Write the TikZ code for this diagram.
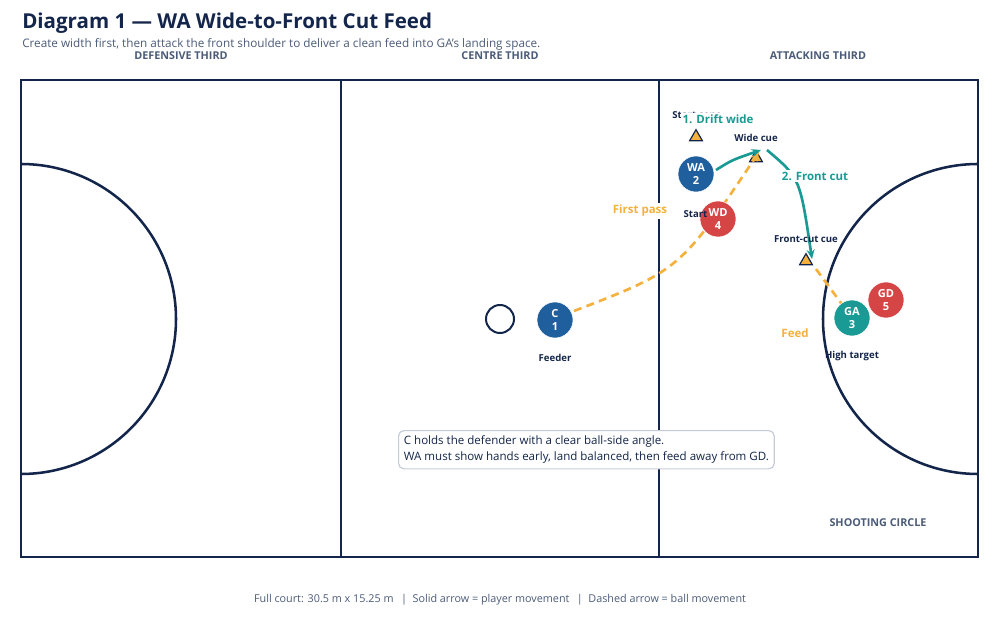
\documentclass[tikz,border=0pt]{standalone}
\usepackage{fontspec}
\setmainfont{Open Sans}
\usepackage{tikz}
\usetikzlibrary{calc,arrows.meta,shapes.geometric,positioning}
\definecolor{Navy}{HTML}{13254A}
\definecolor{SlateText}{HTML}{4B5B78}
\definecolor{CourtBlue}{HTML}{1F5F9E}
\definecolor{DefRed}{HTML}{D64545}
\definecolor{Teal}{HTML}{1A9A94}
\definecolor{BallOrange}{HTML}{F4B13D}
\definecolor{BoxEdge}{HTML}{C5CCD8}

\begin{document}
\begin{tikzpicture} [x=0.75pt, y=-0.75pt, >=Stealth, text=Navy,
	   every node/.style={font=\footnotesize},
	   zone/.style = {font=\bfseries\fontsize{8.1}{9}\selectfont, text=SlateText},
	   player/.style = {circle, minimum size=27pt, inner sep=0pt,
	                    fill=#1, draw=white, thin, text=white, align=center,
	                    font=\bfseries\fontsize{8.3}{9.5}\selectfont},
	   cone/.style = {regular polygon, regular polygon sides=3, minimum size=11pt,
	                  inner sep=0pt, fill=BallOrange, draw=Navy, line width=0.9pt},
	   tag/.style = {font=\bfseries\fontsize{7.2}{8}\selectfont, text=Navy, inner sep=1pt},
	   callout/.style 2 args = {font=\bfseries\fontsize{#1}{10}\selectfont, text=#2,
	                            fill=white, inner sep=1.5pt},
	   run/.style = {Teal, line width=2pt, -{Stealth[length=7pt,width=6pt]}},
	   pass/.style = {BallOrange, line width=2pt, dash pattern=on 6pt off 4pt}]
	\useasboundingbox (0,0) rectangle (1000,627);

	%% Title block
	\node [anchor=west, inner sep=0pt, font=\bfseries\fontsize{15.4}{17}\selectfont] (title) at (22,23)
	      {Diagram 1 --- WA Wide-to-Front Cut Feed};
	\node [anchor=west, inner sep=0pt, text=SlateText, font=\fontsize{8.8}{10}\selectfont] (subtitle) at (22,44)
	      {Create width first, then attack the front shoulder to deliver a clean feed into GA’s landing space.};

	%% Zone labels
	\node [zone] (defzone) at (181,56) {DEFENSIVE THIRD};
	\node [zone] (cenzone) at (500,56) {CENTRE THIRD};
	\node [zone] (attzone) at (818,56) {ATTACKING THIRD};
	\node [zone] (circzone) at (878,523) {SHOOTING CIRCLE};

	%% Labels under the court lines
	\node [tag] (hightarget) at (852,356) {High target};

	%% Court
	\begin{scope}[Navy, line width=1.9pt]
	  \draw (21,80) rectangle (978,557);
	  \draw (341,80) -- (341,557);
	  \draw (659,80) -- (659,557);
	  \draw (21,164) arc[start angle=270, end angle=450, radius=155];
	  \draw (978,164) arc[start angle=270, end angle=90, radius=155];
	\end{scope}
	\node [circle, draw=Navy, line width=1.5pt, minimum size=21pt, inner sep=0pt] (centre) at (500,319) {};

	%% Cones
	\node [cone] (startcone) at (696,137) {};
	\node [cone] (widecue) at (756,158) {};
	\node [cone] (frontcue) at (806,261) {};

	%% Players
	\coordinate (cpos) at (555,320);
	\coordinate (gapos) at (852,318);
	\coordinate (wapos) at (696,174);

	%% Ball movement
	\draw [pass, -{Stealth[length=7pt,width=6pt]}] ($(cpos)+(19,-9)$) .. controls (680,270) .. ($(widecue)+(3,-6)$);
	\draw [pass] ($(frontcue)+(10,8)$) -- (gapos);

	%% Player movement
	\draw [run] ($(wapos)+(20,-4)$) .. controls (732,160) .. ($(widecue)+(5,-8)$);
	\draw [run] ($(widecue)+(11,-8)$) .. controls (800,178) .. ($(frontcue)+(6,-2)$);

	\node [player=CourtBlue] (c) at (cpos) {C\\1};
	\node [player=CourtBlue] (wa) at (wapos) {WA\\2};
	\node [player=DefRed] (wd) at (718,219) {WD\\4};
	\node [player=DefRed] (gd) at (886,300) {GD\\5};
	\node [player=Teal] (ga) at (gapos) {GA\\3};

	%% Texts
	\node [tag] (startconelbl) at (697,115) {Start cone};
	\node [callout={8.6}{Teal}] (drift) at (718,119) {1. Drift wide};
	\node [tag] (widecuelbl) at (756,138) {Wide cue};
	\node [callout={8.6}{Teal}] (frontcut) at (815,176) {2. Front cut};
	\node [tag] (frontcuelbl) at (806,239) {Front-cut cue};
	\node [callout={8.6}{BallOrange}] (firstpass) at (640,211) {First pass};
	\node [tag, anchor=east] (startlbl) at (709,214) {Start};
	\node [callout={8.6}{BallOrange}] (feed) at (795,333) {Feed};
	\node [tag] (feeder) at (555,358) {Feeder};

	%% Coaching note
	\node [draw=BoxEdge, fill=white, line width=0.9pt, rounded corners=4pt, align=left,
	       anchor=north west, inner xsep=4pt, inner ysep=4pt, font=\fontsize{8.65}{12}\selectfont]
	      (note) at (398,430)
	      {C holds the defender with a clear ball-side angle.\\
	       WA must show hands early, land balanced, then feed away from GD.};

	%% Footer
	\node [text=SlateText, font=\fontsize{8.1}{9}\selectfont] (footer) at (500,600)
	      {Full court: 30.5 m x 15.25 m \ \,|\ \ Solid arrow = player movement \ \,|\ \ Dashed arrow = ball movement};
\end{tikzpicture}
\end{document}
